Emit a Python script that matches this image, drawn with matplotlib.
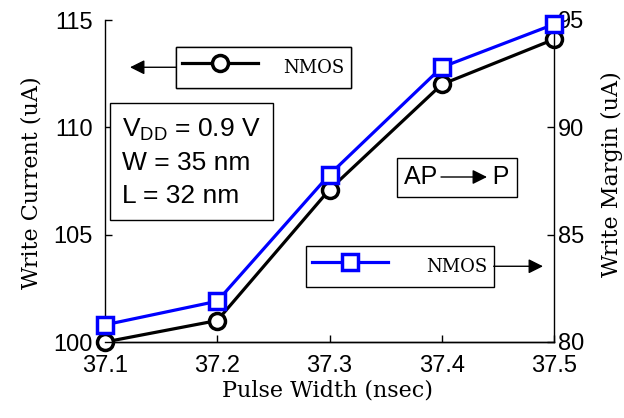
#!/usr/bin/env python3
"""Write current / write margin vs pulse width (NMOS, AP->P)."""
import matplotlib
matplotlib.use("Agg")
import matplotlib.pyplot as plt
from matplotlib.patches import FancyArrowPatch

# data
pulse_width = [37.1, 37.2, 37.3, 37.4, 37.5]
write_current = [100.0, 101.0, 107.1, 112.0, 114.1]   # left axis (uA)
write_margin = [80.8, 81.9, 87.8, 92.8, 94.8]         # right axis (uA)

x_ticks = [37.1, 37.2, 37.3, 37.4, 37.5]
left_ticks = [100, 105, 110, 115]
right_ticks = [80, 85, 90, 95]
info_lines = ["$\\mathregular{V_{DD}}$ = 0.9 V", "W = 35 nm", "L = 32 nm"]

SANS = "Liberation Sans"
SERIF = "DejaVu Serif"
W, H = 624, 418


def fx(px):
    return px / W


def fy(py):
    return 1 - py / H


fig = plt.figure(figsize=(W / 100, H / 100), dpi=100)
ax = fig.add_axes([fx(105), fy(342), 449 / W, 322 / H])
ax2 = ax.twinx()

ln1, = ax.plot(pulse_width, write_current, color="black", lw=2.3, marker="o",
               ms=11.5, mew=2.5, mfc="white", mec="black", zorder=3, clip_on=False)
ln2, = ax2.plot(pulse_width, write_margin, color="blue", lw=2.3, marker="s",
                ms=12, mew=2.5, mfc="white", mec="blue", zorder=3, clip_on=False)

ax.set_xlim(37.1, 37.5)
ax.set_ylim(100, 115)
ax2.set_ylim(80, 95)
ax.set_xticks(x_ticks)
ax.set_xticklabels([f"{v:.1f}" for v in x_ticks])
ax.set_yticks(left_ticks)
ax2.set_yticks(right_ticks)

for a in (ax, ax2):
    a.spines["top"].set_visible(False)
    for s in a.spines.values():
        s.set_linewidth(1.0)
    a.tick_params(direction="in", length=5, width=1, labelsize=17)
    for lab in a.get_xticklabels() + a.get_yticklabels():
        lab.set_fontfamily(SANS)
ax.tick_params(axis="x", pad=9)
ax.tick_params(axis="y", pad=9)
ax2.tick_params(axis="y", pad=3)
ax2.spines["left"].set_visible(False)
ax.spines["right"].set_visible(False)

lab_kw = dict(family=SERIF, fontsize=16)
ax.set_xlabel("Pulse Width (nsec)", **lab_kw)
ax.xaxis.set_label_coords((328 - 105) / 449, (342 - 379) / 322)
ax.set_ylabel("Write Current (uA)", **lab_kw)
ax.yaxis.set_label_coords((42 - 105) / 449, (342 - 183) / 322)
ax2.set_ylabel("Write Margin (uA)", **lab_kw)
ax2.yaxis.set_label_coords((601 - 105) / 449, (342 - 174) / 322)

# legends with pointer arrows
leg_kw = dict(frameon=True, fancybox=False, edgecolor="black", framealpha=1,
              prop={"family": SERIF, "size": 13}, handlelength=4.2,
              handleheight=2.0, borderpad=0.35, borderaxespad=0,
              loc="upper left", bbox_transform=fig.transFigure)
leg1 = ax.legend([ln1], ["NMOS"], bbox_to_anchor=(fx(176), fy(47)),
                 handletextpad=1.4, **leg_kw)
leg1.get_frame().set_linewidth(1.0)
ax.add_artist(leg1)
leg2 = ax2.legend([ln2], ["NMOS"], bbox_to_anchor=(fx(306), fy(246)),
                  handletextpad=2.1, **leg_kw)
leg2.get_frame().set_linewidth(1.0)

# conditions box
fig.text(fx(122), fy(162), "\n".join(info_lines), family=SANS,
         fontsize=19, va="center", ha="left", linespacing=1.45,
         bbox=dict(boxstyle="square,pad=0.45", fc="white", ec="black", lw=1.0))

# AP -> P box
fig.text(fx(457), fy(177), "AP        P", family=SANS, fontsize=18,
         va="center", ha="center",
         bbox=dict(boxstyle="square,pad=0.3", fc="white", ec="black", lw=1.0))

arrow = dict(arrowstyle="-|>", color="black", lw=1.0, mutation_scale=22,
             shrinkA=0, shrinkB=0, transform=fig.transFigure, zorder=5)
fig.patches.append(FancyArrowPatch((fx(441), fy(177)), (fx(487), fy(177)), **arrow))

# arrows start at the legend frames
fig.canvas.draw()
inv = fig.transFigure.inverted()
b1 = leg1.get_frame().get_window_extent().transformed(inv)
b2 = leg2.get_frame().get_window_extent().transformed(inv)
y1 = (b1.y0 + b1.y1) / 2
y2 = (b2.y0 + b2.y1) / 2
fig.patches.append(FancyArrowPatch((b1.x0, y1), (fx(130), y1), **arrow))
fig.patches.append(FancyArrowPatch((b2.x1, y2), (fx(543), y2), **arrow))

fig.savefig("out.png", dpi=100)
